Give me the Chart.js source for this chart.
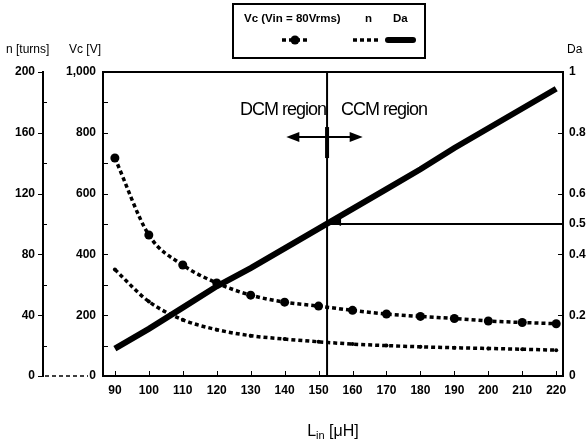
<!DOCTYPE html>
<html><head><meta charset="utf-8">
<script src="https://cdn.jsdelivr.net/npm/chart.js@4"></script>
<style>html,body{margin:0;padding:0;background:#fff}</style>
</head><body>
<canvas id="c" width="586" height="441"></canvas>
<script>
// ---- data ----
const L_VALUES  = [90, 100, 110, 120, 130, 140, 150, 160, 170, 180, 190, 200, 210, 220];
const VC_VALUES = [717, 464, 365, 306, 266, 243, 230, 216, 204, 196, 189, 181, 176, 172];
const N_VALUES  = [70, 49, 37, 30.5, 26.5, 24.3, 22.5, 21, 20, 19.2, 18.6, 18.1, 17.6, 17];
const DA_VALUES = [0.09, 0.155, 0.225, 0.295, 0.355, 0.42, 0.485, 0.55, 0.615, 0.68, 0.75, 0.815, 0.88, 0.945];
const X_TICKS   = [90, 100, 110, 120, 130, 140, 150, 160, 170, 180, 190, 200, 210, 220];
const VC_TICKS  = [0, 100, 200, 300, 400, 500, 600, 700, 800, 900, 1000];
const N_TICKS   = [0, 20, 40, 60, 80, 100, 120, 140, 160, 180, 200];
const DA_TICKS  = [0, 0.2, 0.4, 0.5, 0.6, 0.8, 1];
const SERIES_LABELS = ['Vc (Vin = 80Vrms)', 'n', 'Da'];
const BOUNDARY_L  = 152.5;   // DCM / CCM boundary
const BOUNDARY_DA = 0.5;
const REGION_LABELS = ['DCM region', 'CCM region'];
const AXIS_TITLES = { n: 'n [turns]', vc: 'Vc [V]', da: 'Da' };

const pts = vals => L_VALUES.map((x, i) => ({ x, y: vals[i] }));
const FONT = "'Liberation Sans', Arial, sans-serif";
const tickFont = { family: FONT, size: 12, weight: 'bold' };

const decor = {
  id: 'decor',
  beforeDatasetsDraw(chart) {
    const { ctx, chartArea: a, scales } = chart;
    const x = scales.x, yDa = scales.yDa, yVc = scales.yVc, yN = scales.yN;
    ctx.save();
    ctx.strokeStyle = '#000'; ctx.fillStyle = '#000';
    // top frame
    ctx.lineWidth = 2;
    ctx.beginPath(); ctx.moveTo(a.left, a.top); ctx.lineTo(a.right, a.top); ctx.stroke();
    // inward ticks
    ctx.lineWidth = 1;
    X_TICKS.forEach(v => {
      const px = Math.round(x.getPixelForValue(v)) + 0.5;
      ctx.beginPath(); ctx.moveTo(px, a.bottom); ctx.lineTo(px, a.bottom - 5); ctx.stroke();
    });
    VC_TICKS.forEach(v => {
      const py = Math.round(yVc.getPixelForValue(v)) + 0.5;
      ctx.beginPath(); ctx.moveTo(a.left, py); ctx.lineTo(a.left + 5, py); ctx.stroke();
    });
    N_TICKS.forEach(v => {
      const py = Math.round(yN.getPixelForValue(v)) + 0.5;
      const len = v % 40 === 0 ? -5 : 4;
      ctx.beginPath(); ctx.moveTo(yN.right, py); ctx.lineTo(yN.right + len, py); ctx.stroke();
    });
    DA_TICKS.forEach(v => {
      const py = Math.round(yDa.getPixelForValue(v)) + 0.5;
      ctx.beginPath(); ctx.moveTo(a.right, py); ctx.lineTo(a.right - 5, py); ctx.stroke();
    });
    // boundary vertical line
    const bx = x.getPixelForValue(BOUNDARY_L);
    ctx.lineWidth = 2;
    ctx.beginPath(); ctx.moveTo(bx, a.top); ctx.lineTo(bx, a.bottom); ctx.stroke();
    // horizontal line at Da = 0.5
    const by = yDa.getPixelForValue(BOUNDARY_DA);
    ctx.beginPath(); ctx.moveTo(bx, by); ctx.lineTo(a.right, by); ctx.stroke();
    // thick segment + double arrow
    const ay = yVc.getPixelForValue(786);
    ctx.lineWidth = 4;
    ctx.beginPath(); ctx.moveTo(bx, ay - 10); ctx.lineTo(bx, ay + 21); ctx.stroke();
    const ax0 = x.getPixelForValue(BOUNDARY_L - 12), ax1 = x.getPixelForValue(BOUNDARY_L + 10.5);
    ctx.lineWidth = 2;
    ctx.beginPath(); ctx.moveTo(ax0 + 8, ay); ctx.lineTo(ax1 - 8, ay); ctx.stroke();
    ctx.beginPath(); ctx.moveTo(ax0, ay); ctx.lineTo(ax0 + 13, ay - 5); ctx.lineTo(ax0 + 13, ay + 5); ctx.closePath(); ctx.fill();
    ctx.beginPath(); ctx.moveTo(ax1, ay); ctx.lineTo(ax1 - 13, ay - 5); ctx.lineTo(ax1 - 13, ay + 5); ctx.closePath(); ctx.fill();
    // triangle marker at the intersection
    ctx.beginPath(); ctx.moveTo(bx + 2, by - 3); ctx.lineTo(bx + 14, by - 9); ctx.lineTo(bx + 14, by + 2); ctx.closePath(); ctx.fill();
    ctx.restore();
  },
  afterDraw(chart) {
    const { ctx, chartArea: a, scales } = chart;
    const x = scales.x, yVc = scales.yVc, yN = scales.yN, yDa = scales.yDa;
    ctx.save();
    ctx.fillStyle = '#000'; ctx.strokeStyle = '#000';
    // dashed base line between n axis and Vc axis
    ctx.lineWidth = 1.5; ctx.setLineDash([4, 3]);
    ctx.beginPath(); ctx.moveTo(yN.right + 2, a.bottom); ctx.lineTo(yVc.left + 45, a.bottom); ctx.stroke();
    ctx.setLineDash([]);
    // region texts
    const bx = x.getPixelForValue(BOUNDARY_L);
    const ty = yVc.getPixelForValue(875);
    ctx.font = `18px ${FONT}`; ctx.letterSpacing = '-1px'; ctx.textBaseline = 'middle';
    ctx.textAlign = 'right'; ctx.fillText(REGION_LABELS[0], bx - 1, ty);
    ctx.textAlign = 'left'; ctx.fillText(REGION_LABELS[1], bx + 14, ty);
    ctx.letterSpacing = '0px';
    // axis titles
    ctx.font = `12px ${FONT}`; ctx.textBaseline = 'middle';
    ctx.textAlign = 'left'; ctx.fillText(AXIS_TITLES.n, 6, 50);
    ctx.textAlign = 'right'; ctx.fillText(AXIS_TITLES.vc, yVc.right - 2, 50);
    ctx.textAlign = 'left'; ctx.fillText(AXIS_TITLES.da, yDa.left + 4, 50);
    // x axis title L_in [μH]
    const cx = (a.left + a.right) / 2, cy = 430;
    ctx.font = `16px ${FONT}`;
    const wL = ctx.measureText('L').width, wU = ctx.measureText(' [μH]').width;
    ctx.font = `11px ${FONT}`;
    const wS = ctx.measureText('in').width;
    let sx = cx - (wL + wS + wU) / 2;
    ctx.textAlign = 'left'; ctx.textBaseline = 'alphabetic';
    ctx.font = `16px ${FONT}`; ctx.fillText('L', sx, cy + 6); sx += wL;
    ctx.font = `11px ${FONT}`; ctx.fillText('in', sx, cy + 9); sx += wS;
    ctx.font = `16px ${FONT}`; ctx.fillText(' [μH]', sx, cy + 6);
    // legend box
    const lx = 233, ly = 4, lw = 192, lh = 54;
    ctx.lineWidth = 2; ctx.strokeRect(lx, ly, lw, lh);
    ctx.font = `bold 11.5px ${FONT}`; ctx.textBaseline = 'middle'; ctx.textAlign = 'left';
    const colX = [244, 365, 393];
    SERIES_LABELS.forEach((t, i) => ctx.fillText(t, colX[i], ly + 15));
    const sy = ly + 36;
    const ds = chart.data.datasets;
    ctx.lineWidth = ds[0].borderWidth; ctx.setLineDash(ds[0].borderDash);
    ctx.beginPath(); ctx.moveTo(282, sy); ctx.lineTo(308, sy); ctx.stroke();
    ctx.setLineDash([]);
    ctx.beginPath(); ctx.arc(295, sy, ds[0].pointRadius, 0, Math.PI * 2); ctx.fill();
    ctx.lineWidth = ds[1].borderWidth; ctx.setLineDash(ds[1].borderDash);
    ctx.beginPath(); ctx.moveTo(353, sy); ctx.lineTo(379, sy); ctx.stroke();
    ctx.setLineDash([]);
    ctx.lineWidth = ds[2].borderWidth; ctx.lineCap = 'round';
    ctx.beginPath(); ctx.moveTo(388, sy); ctx.lineTo(413, sy); ctx.stroke();
    ctx.restore();
  }
};

new Chart(document.getElementById('c'), {
  type: 'line',
  data: {
    datasets: [
      { label: SERIES_LABELS[0], data: pts(VC_VALUES), yAxisID: 'yVc',
        borderColor: '#000', backgroundColor: '#000', borderWidth: 3.5, borderDash: [4, 3],
        pointRadius: 4.5, pointHoverRadius: 4.5, pointBackgroundColor: '#000', pointBorderWidth: 0,
        cubicInterpolationMode: 'monotone', fill: false },
      { label: SERIES_LABELS[1], data: pts(N_VALUES), yAxisID: 'yN',
        borderColor: '#000', backgroundColor: '#000', borderWidth: 3.5, borderDash: [4, 3],
        pointRadius: 2, pointBorderWidth: 0, pointBackgroundColor: '#000',
        cubicInterpolationMode: 'monotone', fill: false },
      { label: SERIES_LABELS[2], data: pts(DA_VALUES), yAxisID: 'yDa',
        borderColor: '#000', backgroundColor: '#000', borderWidth: 6,
        pointRadius: 0, tension: 0, fill: false }
    ]
  },
  options: {
    responsive: false, animation: false, devicePixelRatio: 1,
    layout: { padding: { top: 72, left: 0, right: 0, bottom: 0 } },
    plugins: { legend: { display: false }, tooltip: { enabled: false }, title: { display: false } },
    scales: {
      x: {
        type: 'linear', min: 86.5, max: 222,
        afterBuildTicks: s => { s.ticks = X_TICKS.map(v => ({ value: v })); },
        afterFit: s => { s.height = 65; },
        ticks: { font: tickFont, color: '#000', padding: 7, maxRotation: 0, autoSkip: false },
        grid: { drawOnChartArea: false, drawTicks: false },
        border: { color: '#000', width: 2 }
      },
      yVc: {
        position: 'left', weight: 0, min: 0, max: 1000,
        afterBuildTicks: s => { s.ticks = VC_TICKS.map(v => ({ value: v })); },
        afterFit: s => { s.width = 60; },
        ticks: { autoSkip: false, font: tickFont, color: '#000', padding: 7,
          callback: v => (v % 200 === 0 ? v.toLocaleString('en-US') : '') },
        grid: { drawOnChartArea: false, drawTicks: false },
        border: { color: '#000', width: 2 }
      },
      yN: {
        position: 'left', weight: 1, min: 0, max: 200,
        afterBuildTicks: s => { s.ticks = N_TICKS.map(v => ({ value: v })); },
        afterFit: s => { s.width = 43; },
        ticks: { autoSkip: false, font: tickFont, color: '#000', padding: 8,
          callback: v => (v % 40 === 0 ? String(v) : '') },
        grid: { drawOnChartArea: false, drawTicks: false },
        border: { color: '#000', width: 2 }
      },
      yDa: {
        position: 'right', min: 0, max: 1,
        afterBuildTicks: s => { s.ticks = DA_TICKS.map(v => ({ value: v })); },
        afterFit: s => { s.width = 23; },
        ticks: { autoSkip: false, font: tickFont, color: '#000', padding: 6,
          callback: v => (v === 0 || v === 1 ? String(v) : v.toFixed(1)) },
        grid: { drawOnChartArea: false, drawTicks: false },
        border: { color: '#000', width: 2 }
      }
    }
  },
  plugins: [decor]
});
</script>
</body></html>
